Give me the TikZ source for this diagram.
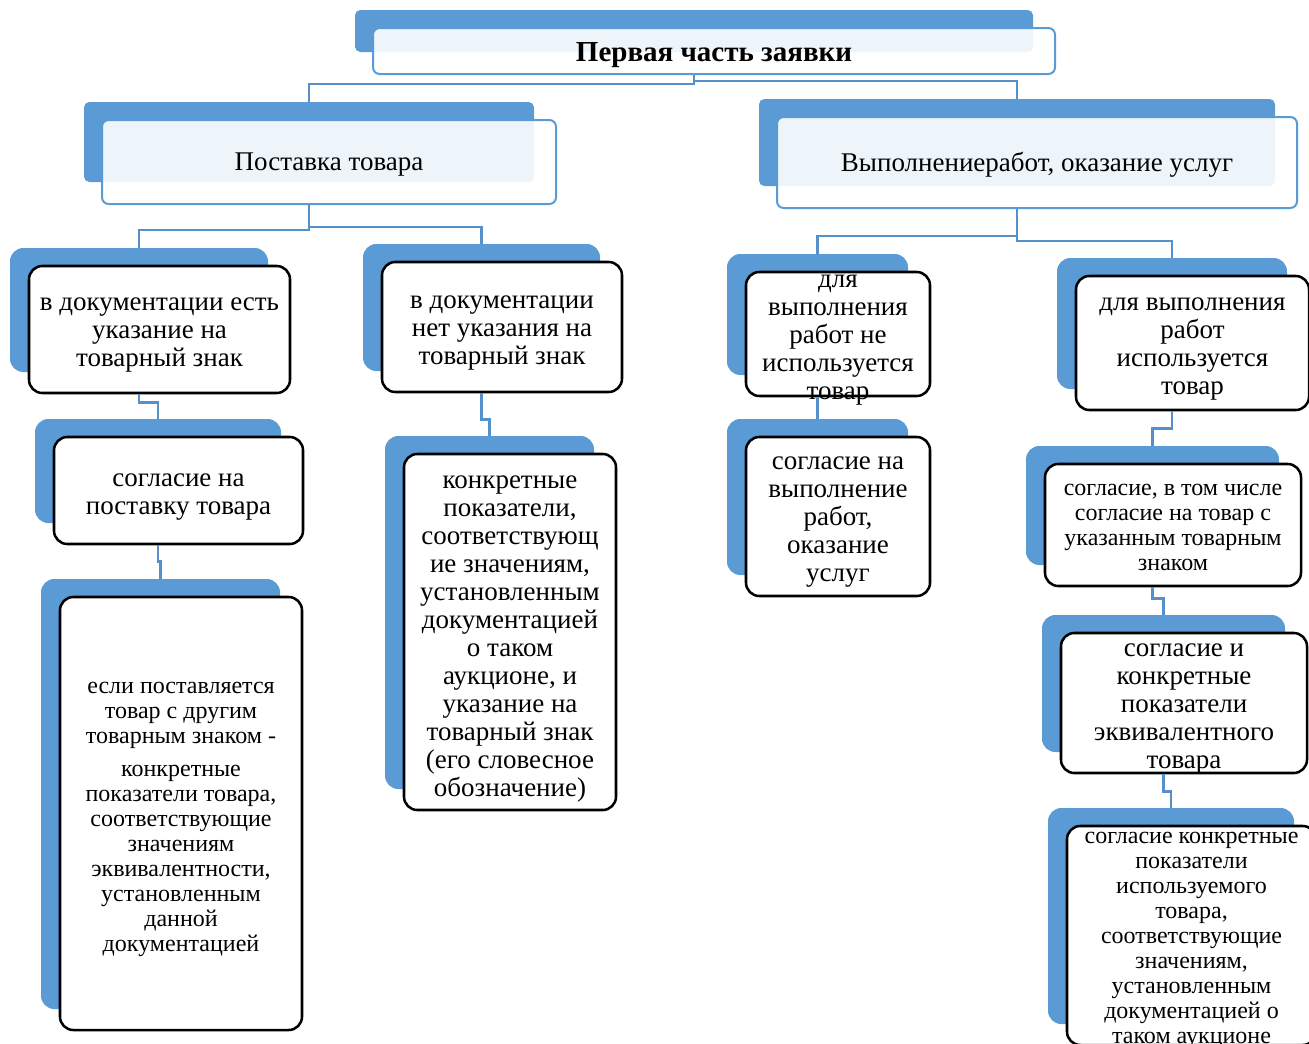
\documentclass[tikz,border=0pt]{standalone}
\usepackage{fontspec}
\setmainfont{Liberation Serif}
\usepackage{tikz}
\usetikzlibrary{calc,fit}

\definecolor{smartblue}{HTML}{5B9BD5}
\definecolor{linkblue}{HTML}{5590CB}

\newcommand{\normsize}{\fontsize{20.25}{21}\selectfont}
\newcommand{\smallsize}{\fontsize{18}{18.75}\selectfont}

\tikzset{
  headback/.style={fill=smartblue, rounded corners=4pt, inner sep=0pt},
  headbox/.style={draw=smartblue, line width=1.5pt, fill=white, fill opacity=0.9, rounded corners=5pt, inner sep=0pt},
  cardback/.style={fill=smartblue, rounded corners=10pt, inner sep=0pt},
  card/.style={draw=black, line width=1.9pt, fill=white, rounded corners=10pt, inner sep=0pt},
  link/.style={draw=linkblue, line width=2pt},
  label/.style={inner sep=0pt}
}

\begin{document}
\begin{tikzpicture}[x=0.75pt,y=-0.75pt]
  \useasboundingbox (0,0) rectangle (1309,1043);

  %% Header boxes (blue plate behind a pale frame)
  \foreach \n/\xa/\ya/\xb/\yb in {T/373/28/1055/74, P/102/120/556/204, W/777/117/1297/208}
  {
    \node[headback, fit={(\xa-18,\ya-18) (\xb-22,\yb-22)}] (Bk\n) {};
    \node[headbox, fit={(\xa,\ya) (\xb,\yb)}] (\n) {};
  }

  %% Lower boxes (blue plate behind a white card)
  \foreach \n/\xa/\ya/\xb/\yb in {A1/29/266/290/393, A2/54/437/303/544, A3/60/597/302/1030,
                                  B1/382/262/622/392, B2/404/454/616/810,
                                  C1/746/272/930/396, C2/746/437/930/596,
                                  D1/1076/276/1309/410, D2/1045/464/1301/586,
                                  D3/1061/633/1307/773, D4/1067/826/1316/1045}
  {
    \node[cardback, fit={(\xa-19,\ya-18) (\xb-22,\yb-21)}] (Bk\n) {};
    \node[card, fit={(\xa,\ya) (\xb,\yb)}] (\n) {};
  }

  %% Texts
  \node[label] (TT) at ($(T.center)+(0,4)$) {\fontsize{21.75}{23}\selectfont\textbf{Первая часть заявки}};
  \node[label] (PT) at ($(P.center)+(0,3)$) {\normsize Поставка товара};
  \node[label] (WT) at ($(W.center)+(0,2)$) {\normsize Выполнениеработ, оказание услуг};

  \node[label] (A1T) at ($(A1.center)+(0,6)$) {\parbox{7cm}{\centering\normsize в документации есть\\указание на\\товарный знак}};
  \node[label] (A2T) at ($(A2.center)+(0,7)$) {\parbox{7cm}{\centering\normsize согласие на\\поставку товара}};
  \node[label] (A3T) at ($(A3.center)+(0,6)$) {\parbox{7cm}{\centering\smallsize если поставляется\\товар с другим\\товарным знаком -\\[6.5pt]
    конкретные\\показатели товара,\\соответствующие\\значениям\\эквивалентности,\\установленным\\данной\\документацией}};
  \node[label] (B1T) at ($(B1.center)+(0,6)$) {\parbox{7cm}{\centering\normsize в документации\\нет указания на\\товарный знак}};
  \node[label] (B2T) at ($(B2.center)+(0,7)$) {\parbox{7cm}{\centering\normsize конкретные\\показатели,\\соответствующ\\ие значениям,\\установленным\\документацией\\о таком\\аукционе, и\\указание на\\товарный знак\\(его словесное\\обозначение)}};
  \node[label] (C1T) at ($(C1.center)+(0,6)$) {\parbox{7cm}{\centering\normsize для\\выполнения\\работ не\\используется\\товар}};
  \node[label] (C2T) at ($(C2.center)+(0,6)$) {\parbox{7cm}{\centering\normsize согласие на\\выполнение\\работ,\\оказание\\услуг}};
  \node[label] (D1T) at ($(D1.center)+(0,6)$) {\parbox{7cm}{\centering\normsize для выполнения\\работ\\используется\\товар}};
  \node[label] (D2T) at ($(D2.center)+(0,2)$) {\parbox{7cm}{\centering\smallsize согласие, в том числе\\согласие на товар с\\указанным товарным\\знаком}};
  \node[label] (D3T) at ($(D3.center)+(0,6)$) {\parbox{7cm}{\centering\normsize согласие и\\конкретные\\показатели\\эквивалентного\\товара}};
  \node[label] (D4T) at ($(D4.center)+(0,5)$) {\parbox{7cm}{\centering\smallsize согласие конкретные\\показатели\\используемого\\товара,\\соответствующие\\значениям,\\установленным\\документацией о\\таком аукционе}};

  %% Elbow connectors: parent / child / drop before the turn
  \foreach \a/\b/\h in {T/P/9, T/W/6, P/A1/25, P/B1/22, W/C1/27, W/D1/32,
                        A1/A2/8, A2/A3/16, B1/B2/26, C1/C2/11,
                        D1/D2/17, D2/D3/11, D3/D4/17}
  {
    \draw[link] (Bk\a.center |- \a.south) -- ++(0,\h) -| (Bk\b.north);
  }

\end{tikzpicture}
\end{document}
